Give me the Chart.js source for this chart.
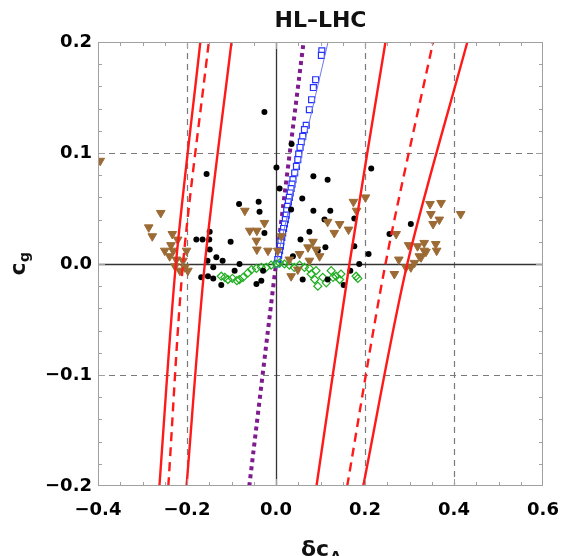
<!DOCTYPE html>
<html>
<head>
<meta charset="utf-8">
<script src="https://cdn.jsdelivr.net/npm/chart.js@4.4.1/dist/chart.umd.min.js"></script>
<style>
html,body{margin:0;padding:0;background:#fff;}
#wrap{width:563px;height:556px;position:relative;}
</style>
</head>
<body>
<div id="wrap"><canvas id="c" width="563" height="556"></canvas></div>
<script>
// ---- tick labels ----
const xTickValues = [-0.4, -0.2, 0.0, 0.2, 0.4, 0.6];
const yTickValues = [-0.2, -0.1, 0.0, 0.1, 0.2];
const xDashedGrid = [-0.2, 0.2, 0.4];
const yDashedGrid = [-0.1, 0.1];

// ---- black dots ----
const blackX = [-0.026,-0.156,0.001,0.035,0.084,0.116,0.214,0.008,-0.083,-0.039,-0.037,-0.026,-0.149,-0.179,-0.165,-0.150,-0.102,-0.149,-0.154,-0.134,-0.120,-0.082,-0.141,-0.168,-0.153,-0.141,-0.123,-0.093,-0.044,-0.033,-0.029,0.034,0.038,0.059,0.084,0.122,0.109,0.075,0.055,0.176,0.111,0.176,0.208,0.187,0.167,0.094,0.060,0.152,0.116,0.303,0.255];
const blackY = [0.137,0.081,0.087,0.108,0.079,0.076,0.086,0.068,0.054,0.056,0.047,0.028,0.029,0.022,0.022,0.022,0.020,0.013,0.003,0.006,0.003,0.000,-0.003,-0.012,-0.011,-0.013,-0.019,-0.006,-0.018,-0.015,-0.006,0.049,0.007,0.059,0.048,0.048,0.040,0.029,0.022,0.041,0.015,0.016,0.009,0.000,-0.006,0.012,-0.014,-0.019,-0.014,0.036,0.027];

// ---- brown down-triangles ----
const brownX = [-0.395,-0.259,-0.286,-0.278,-0.233,-0.221,-0.236,-0.250,-0.231,-0.201,-0.239,-0.224,-0.209,-0.227,-0.205,-0.198,-0.216,-0.070,-0.059,-0.043,-0.026,-0.044,-0.043,-0.018,0.012,0.004,0.030,0.034,0.049,0.174,0.201,0.181,0.116,0.143,0.131,0.163,0.083,0.072,0.090,0.053,0.075,0.098,0.270,0.276,0.266,0.292,0.303,0.298,0.318,0.333,0.359,0.322,0.311,0.346,0.371,0.348,0.367,0.353,0.415,0.333,0.361,0.337,0.326];
const brownY = [0.093,0.046,0.033,0.025,0.027,0.022,0.017,0.012,0.012,0.012,0.007,0.004,0.003,-0.002,-0.003,-0.006,-0.006,0.048,0.030,0.030,0.037,0.021,0.013,0.012,0.025,0.012,0.004,-0.011,-0.005,0.056,0.060,0.048,0.038,0.036,0.028,0.031,0.020,0.015,0.013,0.009,0.003,0.007,0.027,0.004,-0.009,-0.003,-0.003,0.017,0.016,0.019,0.018,0.007,0.001,0.054,0.055,0.045,0.040,0.036,0.045,0.012,0.012,0.011,0.006];

// ---- green open diamonds ----
const greenX = [-0.123,-0.115,-0.108,-0.098,-0.088,-0.082,-0.074,-0.063,-0.055,-0.044,-0.033,-0.022,-0.011,0.000,0.008,0.019,0.030,0.041,0.053,0.064,0.075,0.079,0.087,0.090,0.094,0.105,0.113,0.124,0.128,0.135,0.143,0.146,0.180,0.184];
const greenY = [-0.011,-0.012,-0.014,-0.013,-0.015,-0.014,-0.012,-0.008,-0.005,-0.004,-0.003,-0.003,-0.001,0.000,0.001,0.000,-0.001,-0.003,-0.001,-0.003,-0.004,-0.009,-0.014,-0.006,-0.020,-0.012,-0.017,-0.006,-0.012,-0.011,-0.014,-0.009,-0.011,-0.013];

// ---- blue open squares ----
const blueX = [0.103,0.102,0.089,0.084,0.080,0.075,0.068,0.064,0.060,0.057,0.054,0.051,0.049,0.046,0.042,0.038,0.036,0.034,0.032,0.030,0.028,0.026,0.024,0.023,0.021,0.019,0.017,0.015,0.013,0.011,0.010,0.008,0.006,0.004,0.002];
const blueY = [0.192,0.188,0.166,0.159,0.148,0.139,0.125,0.121,0.115,0.110,0.105,0.099,0.094,0.088,0.082,0.076,0.072,0.068,0.064,0.060,0.056,0.052,0.048,0.044,0.040,0.036,0.032,0.028,0.024,0.020,0.016,0.012,0.008,0.004,0.000];

// ---- lines (x at y = -0.2, 0, 0.2) ----
const lineY = [-0.2, 0.0, 0.2];
const redSolid1X = [-0.262, -0.225, -0.170];
const redDash1X  = [-0.242, -0.209, -0.151];
const redSolid2X = [-0.201, -0.160, -0.100];
const redSolid3X = [0.091, 0.165, 0.246];
const redDash2X  = [0.160, 0.246, 0.353];
const redSolid4X = [0.196, 0.295, 0.430];
const purpleX = [-0.060, 0.000, 0.062];
const blueLineX = [0.000, 0.117];
const blueLineY = [0.000, 0.200];

const zip = (xs, ys) => xs.map((x, i) => ({x: x, y: ys[i]}));

function lineDs(xs, ys, color, width, dash) {
  return {type: 'scatter', data: zip(xs, ys), showLine: true, borderColor: color,
    borderWidth: width, borderDash: dash || [], pointRadius: 0, pointHoverRadius: 0,
    fill: false, tension: 0.3};
}

const fmt = v => (v < -1e-9 ? '\u2212' : '') + Math.abs(v).toFixed(1);

const decor = {
  id: 'decor',
  beforeDatasetsDraw(chart) {
    const {ctx, chartArea: a, scales: {x, y}} = chart;
    ctx.save();
    ctx.strokeStyle = '#7a7a7a';
    ctx.lineWidth = 1.2;
    ctx.setLineDash([6, 5]);
    xDashedGrid.forEach(v => {
      const px = Math.round(x.getPixelForValue(v)) + 0.5;
      ctx.beginPath(); ctx.moveTo(px, a.top); ctx.lineTo(px, a.bottom); ctx.stroke();
    });
    yDashedGrid.forEach(v => {
      const py = Math.round(y.getPixelForValue(v)) + 0.5;
      ctx.beginPath(); ctx.moveTo(a.left, py); ctx.lineTo(a.right, py); ctx.stroke();
    });
    ctx.setLineDash([]);
    ctx.strokeStyle = '#333';
    ctx.lineWidth = 1.3;
    const x0 = Math.round(x.getPixelForValue(0)) + 0.5;
    const y0 = Math.round(y.getPixelForValue(0)) + 0.5;
    ctx.beginPath(); ctx.moveTo(x0, a.top); ctx.lineTo(x0, a.bottom); ctx.stroke();
    ctx.beginPath(); ctx.moveTo(a.left, y0); ctx.lineTo(a.right, y0); ctx.stroke();
    ctx.restore();
  },
  afterDatasetsDraw(chart) {
    const {ctx, chartArea: a, scales: {x, y}} = chart;
    ctx.save();
    ctx.strokeStyle = '#a0a0a0';
    ctx.lineWidth = 1;
    ctx.strokeRect(a.left + 0.5, a.top + 0.5, a.right - a.left - 1, a.bottom - a.top - 1);
    // inward ticks
    for (let i = -8; i <= 12; i++) {
      const v = i * 0.05;
      const major = (i % 4 === 0);
      const len = major ? 7 : 4;
      const px = Math.round(x.getPixelForValue(v)) + 0.5;
      if (px <= a.left + 1 || px >= a.right - 1) continue;
      ctx.beginPath(); ctx.moveTo(px, a.bottom); ctx.lineTo(px, a.bottom - len); ctx.stroke();
      ctx.beginPath(); ctx.moveTo(px, a.top); ctx.lineTo(px, a.top + len); ctx.stroke();
    }
    for (let i = -10; i <= 10; i++) {
      const v = i * 0.02;
      const major = (i % 5 === 0);
      const len = major ? 7 : 4;
      const py = Math.round(y.getPixelForValue(v)) + 0.5;
      if (py <= a.top + 1 || py >= a.bottom - 1) continue;
      ctx.beginPath(); ctx.moveTo(a.left, py); ctx.lineTo(a.left + len, py); ctx.stroke();
      ctx.beginPath(); ctx.moveTo(a.right, py); ctx.lineTo(a.right - len, py); ctx.stroke();
    }
    // title
    const cx = (a.left + a.right) / 2;
    ctx.fillStyle = '#111';
    ctx.textAlign = 'center';
    ctx.textBaseline = 'alphabetic';
    ctx.font = 'bold 22px "DejaVu Sans"';
    ctx.fillText('HL\u2013LHC', cx, 27);
    // x axis title: δc_A
    ctx.textAlign = 'left';
    const mainX = '\u03b4c';
    ctx.font = 'bold 14px "DejaVu Sans"';
    const subW = ctx.measureText('A').width;
    ctx.font = 'bold 22px "DejaVu Sans"';
    const mW = ctx.measureText(mainX).width;
    const sx = cx - (mW + subW) / 2;
    ctx.fillText(mainX, sx, 556);
    ctx.font = 'bold 14px "DejaVu Sans"';
    ctx.fillText('A', sx + mW + 1, 561);
    // y axis title: c_g (rotated)
    ctx.save();
    const cy = (a.top + a.bottom) / 2;
    ctx.translate(25, cy);
    ctx.rotate(-Math.PI / 2);
    ctx.font = 'bold 22px "DejaVu Sans"';
    const cW = ctx.measureText('c').width;
    ctx.font = 'bold 14px "DejaVu Sans"';
    const gW = ctx.measureText('g').width;
    const start = -(cW + gW) / 2;
    ctx.font = 'bold 22px "DejaVu Sans"';
    ctx.fillText('c', start, 0);
    ctx.font = 'bold 14px "DejaVu Sans"';
    ctx.fillText('g', start + cW + 0.5, 4);
    ctx.restore();
    ctx.restore();
  }
};

new Chart(document.getElementById('c'), {
  type: 'scatter',
  data: {
    datasets: [
      lineDs(redSolid1X, lineY, '#ff1a1a', 2.4),
      lineDs(redDash1X, lineY, '#ff1a1a', 2.4, [9, 6]),
      lineDs(redSolid2X, lineY, '#ff1a1a', 2.4),
      lineDs(redSolid3X, lineY, '#ff1a1a', 2.4),
      lineDs(redDash2X, lineY, '#ff1a1a', 2.4, [9, 6]),
      lineDs(redSolid4X, lineY, '#ff1a1a', 2.4),
      {type: 'scatter', data: zip(brownX, brownY), pointStyle: 'triangle', rotation: 180,
        pointRadius: 5, backgroundColor: '#9c6b35', borderColor: '#9c6b35', borderWidth: 1},
      {type: 'scatter', data: zip(blackX, blackY), pointStyle: 'circle',
        pointRadius: 3, backgroundColor: '#000', borderColor: '#000', borderWidth: 0},
      {type: 'scatter', data: zip(greenX, greenY), pointStyle: 'rectRot',
        pointRadius: 4, backgroundColor: 'rgba(255,255,255,0)', borderColor: '#1fae1f', borderWidth: 1.2},
      lineDs(blueLineX, blueLineY, '#6f78e8', 1),
      {type: 'scatter', data: zip(blueX, blueY), pointStyle: 'rect',
        pointRadius: 4.2, backgroundColor: '#fff', borderColor: '#2433ff', borderWidth: 1.2},
      lineDs(purpleX, lineY, '#7f1b8f', 4, [4, 4])
    ]
  },
  options: {
    responsive: false,
    animation: false,
    events: [],
    layout: {padding: {left: 0, right: 20, top: 42, bottom: 0}},
    plugins: {legend: {display: false}, title: {display: false}, tooltip: {enabled: false}},
    scales: {
      x: {
        type: 'linear', min: -0.4, max: 0.6,
        afterFit: s => { s.height = 70; s.paddingLeft = 0; s.paddingRight = 0; },
        afterBuildTicks: s => { s.ticks = xTickValues.map(v => ({value: v})); },
        grid: {display: false, drawTicks: false},
        border: {display: false},
        ticks: {callback: fmt, color: '#000', padding: 14, maxRotation: 0, autoSkip: false,
          font: {family: 'DejaVu Sans', size: 18, weight: 'bold'}}
      },
      y: {
        type: 'linear', min: -0.2, max: 0.2,
        afterFit: s => { s.width = 98; s.paddingTop = 0; s.paddingBottom = 0; },
        afterBuildTicks: s => { s.ticks = yTickValues.map(v => ({value: v})); },
        grid: {display: false, drawTicks: false},
        border: {display: false},
        ticks: {callback: fmt, color: '#000', padding: 6, autoSkip: false,
          font: {family: 'DejaVu Sans', size: 18, weight: 'bold'}}
      }
    }
  },
  plugins: [decor]
});
</script>
</body>
</html>
